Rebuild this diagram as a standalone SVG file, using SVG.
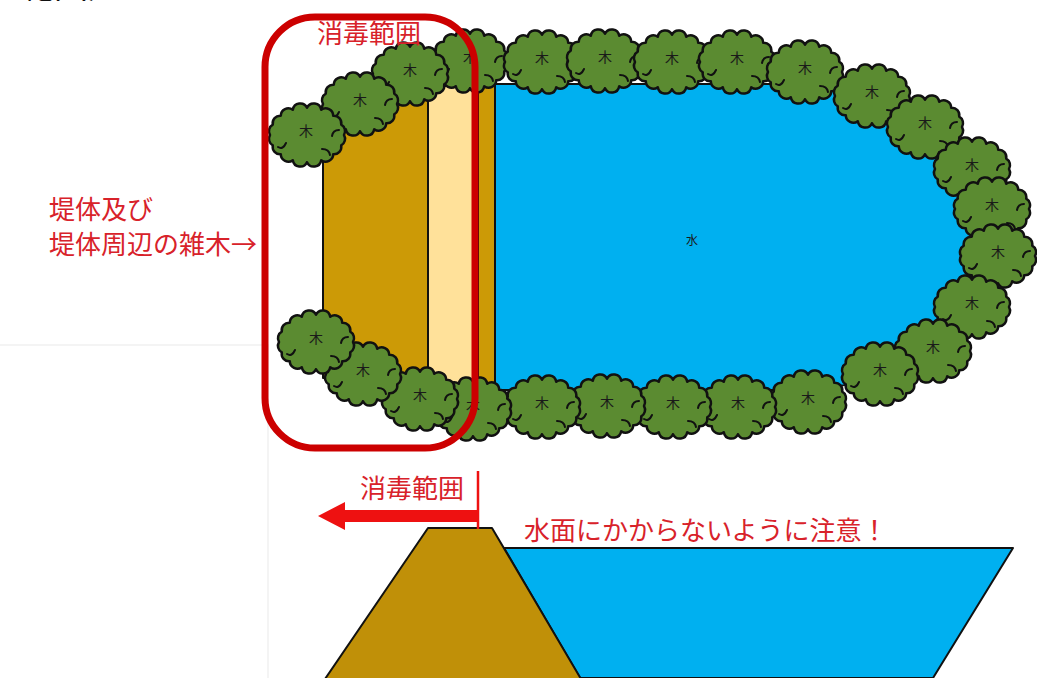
<svg xmlns="http://www.w3.org/2000/svg" xmlns:xlink="http://www.w3.org/1999/xlink" width="1037" height="678" viewBox="0 0 1037 678">
  <style>
    .red-label { font-family: "Noto Sans CJK JP", "Noto Sans", sans-serif; font-size: 26px; fill: #d8222a; }
    .tree-label { font-family: "Noto Sans CJK JP", sans-serif; font-size: 14px; fill: #1a1a1a; text-anchor: middle; }
    .outline { stroke: #111; stroke-width: 2; stroke-linejoin: round; }
    .crown { fill: #5b8b31; stroke: #111; stroke-width: 2.5; stroke-linejoin: round; }
    .hook { fill: none; stroke: #111; stroke-width: 2; stroke-linecap: round; }
  </style>
  <defs>
    <!-- scalloped tree crown, centred on 0,0 -->
    <symbol id="tree" overflow="visible">
      <path class="crown" d="M37,0 A7.5,7.5 0 0 1 34.2,10.4 A7.5,7.5 0 0 1 26.2,19.3 A7.5,7.5 0 0 1 14.2,25.2 A7.5,7.5 0 0 1 0,27.2 A7.5,7.5 0 0 1 -14.2,25.2 A7.5,7.5 0 0 1 -26.2,19.3 A7.5,7.5 0 0 1 -34.2,10.4 A7.5,7.5 0 0 1 -37,0 A7.5,7.5 0 0 1 -34.2,-10.4 A7.5,7.5 0 0 1 -26.2,-19.3 A7.5,7.5 0 0 1 -14.2,-25.2 A7.5,7.5 0 0 1 0,-27.2 A7.5,7.5 0 0 1 14.2,-25.2 A7.5,7.5 0 0 1 26.2,-19.3 A7.5,7.5 0 0 1 34.2,-10.4 A7.5,7.5 0 0 1 37,0 Z"/>
      <path class="hook" d="M-29,12 q5,3 8,-4 M23,20 q-1,-6 -8,-6 M32,-5 q-6,0 -7,6"/>
    </symbol>
  </defs>

  <rect width="1037" height="678" fill="#ffffff"/>

  <!-- heading running off the top edge -->
  <text x="-14" y="-2" font-family="'Noto Sans CJK JP', sans-serif" font-size="34" fill="#111">す範囲）</text>

  <!-- faint panel edges -->
  <path d="M0,345 H268 V678" fill="none" stroke="#f1f1f1" stroke-width="1.5"/>

  <!-- plan view: pond and embankment -->
  <g id="pond">
    <path d="M495,84 L790,84 C920,84 975,165 975,240 C975,315 920,390 790,390 L495,390 Z" fill="#00b0f0" class="outline"/>
    <text x="692" y="245" font-family="'Noto Sans CJK JP', sans-serif" font-size="12" fill="#1a1a1a" text-anchor="middle">水</text>
  </g>
  <g id="embankment">
    <rect x="323" y="98" width="105" height="280" fill="#cc9a06" class="outline"/>
    <rect x="428" y="86" width="50" height="298" fill="#ffe19a" class="outline"/>
    <rect x="478" y="82" width="17" height="308" fill="#cc9a06" class="outline"/>
  </g>

  <!-- trees round the pond -->
  <g id="trees">
    <g id="tree-04"><use xlink:href="#tree" x="470" y="61"/><text class="tree-label" x="470" y="62">木</text></g>
    <g id="tree-05"><use xlink:href="#tree" x="542" y="62"/><text class="tree-label" x="542" y="63">木</text></g>
    <g id="tree-06"><use xlink:href="#tree" x="605" y="61"/><text class="tree-label" x="605" y="62">木</text></g>
    <g id="tree-07"><use xlink:href="#tree" x="672" y="62"/><text class="tree-label" x="672" y="63">木</text></g>
    <g id="tree-08"><use xlink:href="#tree" x="737" y="62"/><text class="tree-label" x="737" y="63">木</text></g>
    <g id="tree-09"><use xlink:href="#tree" x="805" y="72"/><text class="tree-label" x="805" y="73">木</text></g>
    <g id="tree-10"><use xlink:href="#tree" x="872" y="96"/><text class="tree-label" x="872" y="97">木</text></g>
    <g id="tree-11"><use xlink:href="#tree" x="925" y="127"/><text class="tree-label" x="925" y="128">木</text></g>
    <g id="tree-12"><use xlink:href="#tree" x="972" y="169"/><text class="tree-label" x="972" y="170">木</text></g>
    <g id="tree-13"><use xlink:href="#tree" x="992" y="209"/><text class="tree-label" x="992" y="210">木</text></g>
    <g id="tree-14"><use xlink:href="#tree" x="998" y="256"/><text class="tree-label" x="998" y="257">木</text></g>
    <g id="tree-15"><use xlink:href="#tree" x="972" y="307"/><text class="tree-label" x="972" y="308">木</text></g>
    <g id="tree-16"><use xlink:href="#tree" x="933" y="351"/><text class="tree-label" x="933" y="352">木</text></g>
    <g id="tree-17"><use xlink:href="#tree" x="880" y="374"/><text class="tree-label" x="880" y="375">木</text></g>
    <g id="tree-18"><use xlink:href="#tree" x="808" y="402"/><text class="tree-label" x="808" y="403">木</text></g>
    <g id="tree-19"><use xlink:href="#tree" x="738" y="407"/><text class="tree-label" x="738" y="408">木</text></g>
    <g id="tree-20"><use xlink:href="#tree" x="673" y="407"/><text class="tree-label" x="673" y="408">木</text></g>
    <g id="tree-21"><use xlink:href="#tree" x="607" y="406"/><text class="tree-label" x="607" y="407">木</text></g>
    <g id="tree-22"><use xlink:href="#tree" x="542" y="407"/><text class="tree-label" x="542" y="408">木</text></g>
    <g id="tree-23"><use xlink:href="#tree" x="473" y="409"/><text class="tree-label" x="473" y="410">木</text></g>
    <g id="tree-24"><use xlink:href="#tree" x="420" y="399"/><text class="tree-label" x="420" y="400">木</text></g>
    <g id="tree-25"><use xlink:href="#tree" x="363" y="374"/><text class="tree-label" x="363" y="375">木</text></g>
    <g id="tree-26"><use xlink:href="#tree" x="316" y="342"/><text class="tree-label" x="316" y="343">木</text></g>
    <g id="tree-03"><use xlink:href="#tree" x="410" y="74"/><text class="tree-label" x="410" y="75">木</text></g>
    <g id="tree-02"><use xlink:href="#tree" x="360" y="104"/><text class="tree-label" x="360" y="105">木</text></g>
    <g id="tree-01"><use xlink:href="#tree" x="307" y="135"/><text class="tree-label" x="306" y="136">木</text></g>
  </g>

  <!-- disinfection area outline on the plan -->
  <g id="disinfection-area">
    <rect x="265" y="17" width="210" height="431" rx="50" ry="50" fill="none" stroke="#cc0000" stroke-width="7"/>
    <text class="red-label" x="317" y="43">消毒範囲</text>
  </g>

  <g id="embankment-note">
    <text class="red-label" x="49" y="219" font-size="25">堤体及び</text>
    <text class="red-label" x="49" y="254">堤体周辺の雑木→</text>
  </g>

  <!-- cross-section -->
  <g id="section-water">
    <path d="M504,548 L1013,548 L933,678 L580,678 Z" fill="#00b0f0" class="outline"/>
  </g>
  <g id="section-dam">
    <path d="M325,679 L428,528 L492,528 L581,679 Z" fill="#c09008" class="outline"/>
  </g>

  <g id="connectors">
    <line x1="478" y1="471" x2="478" y2="529" stroke="#ee1111" stroke-width="2.5"/>
    <path d="M478,510 L345,510 L345,502 L318,516 L345,530 L345,522 L478,522 Z" fill="#ee1111"/>
  </g>

  <g id="section-labels">
    <text class="red-label" x="360" y="498">消毒範囲</text>
    <text class="red-label" x="524" y="540" font-size="25">水面にかからないように注意！</text>
  </g>
</svg>
